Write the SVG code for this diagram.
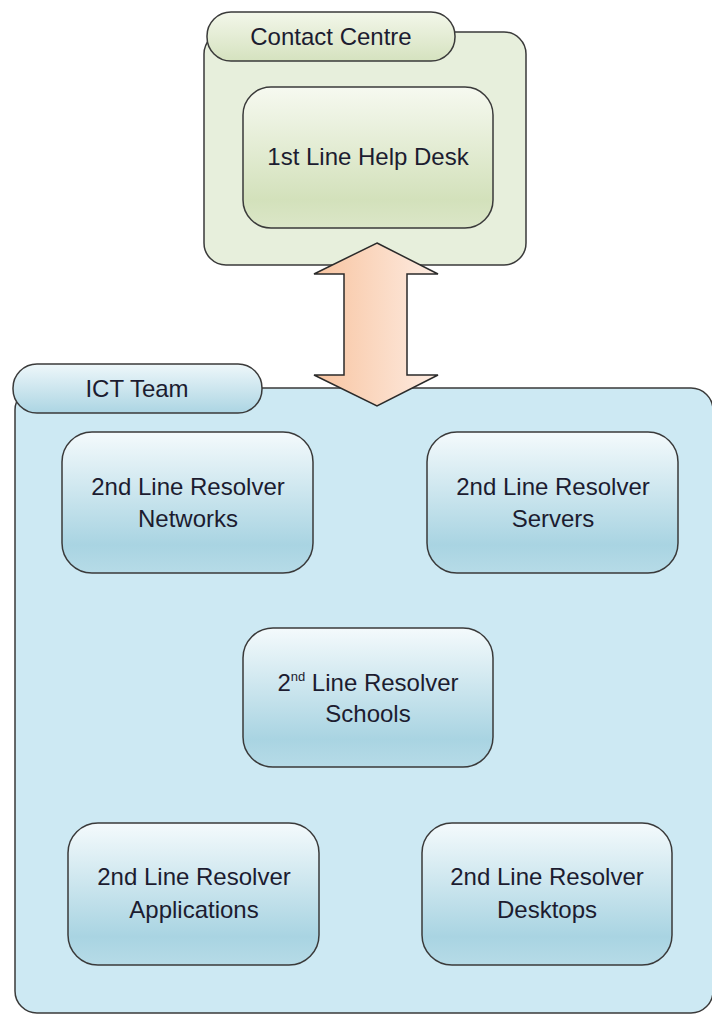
<svg xmlns="http://www.w3.org/2000/svg" width="712" height="1015" viewBox="0 0 712 1015">
  <defs>
    <linearGradient id="gGreenBox" x1="0" y1="0" x2="0" y2="1">
      <stop offset="0" stop-color="#f6f9f0"/>
      <stop offset="0.8" stop-color="#d3e1bb"/>
      <stop offset="1" stop-color="#dbe6c8"/>
    </linearGradient>
    <linearGradient id="gGreenTab" x1="0" y1="0" x2="0" y2="1">
      <stop offset="0" stop-color="#f3f7ea"/>
      <stop offset="1" stop-color="#d5e2bf"/>
    </linearGradient>
    <linearGradient id="gBlueBox" x1="0" y1="0" x2="0" y2="1">
      <stop offset="0" stop-color="#f4fafc"/>
      <stop offset="0.8" stop-color="#a9d4e2"/>
      <stop offset="1" stop-color="#b6dbe7"/>
    </linearGradient>
    <linearGradient id="gBlueTab" x1="0" y1="0" x2="0" y2="1">
      <stop offset="0" stop-color="#eef7fa"/>
      <stop offset="1" stop-color="#acd5e3"/>
    </linearGradient>
    <linearGradient id="gArrow" x1="0" y1="0" x2="1" y2="0">
      <stop offset="0" stop-color="#f8c4a0"/>
      <stop offset="1" stop-color="#fdece2"/>
    </linearGradient>
    <style>
      .container { stroke: #3a3a3a; stroke-width: 1.5; }
      .green { fill: #e7efdc; }
      .blue { fill: #cde9f3; }
      .node { stroke: #3a3a3a; stroke-width: 1.5; }
      .lbl { font-family: "Liberation Sans", Arial, sans-serif; font-size: 24px; fill: #1c1c30; text-anchor: middle; }
      .arrow { fill: url(#gArrow); stroke: #2a2a2a; stroke-width: 1.5; stroke-linejoin: miter; }
    </style>
  </defs>

  <g id="contact-centre">
    <rect class="container green" x="204" y="32" width="322" height="233" rx="22"/>
    <rect class="container" x="207" y="12" width="248" height="49" rx="24" fill="url(#gGreenTab)"/>
    <text class="lbl" x="331" y="45">Contact Centre</text>
  </g>

  <g id="help-desk">
    <rect class="node" x="243" y="87" width="250" height="141" rx="28" fill="url(#gGreenBox)"/>
    <text class="lbl" x="368" y="165">1st Line Help Desk</text>
  </g>

  <g id="ict-team">
    <rect class="container blue" x="15" y="388" width="698" height="625" rx="22"/>
    <rect class="container" x="13" y="364" width="249" height="49" rx="24" fill="url(#gBlueTab)"/>
    <text class="lbl" x="137" y="397">ICT Team</text>
  </g>

  <g id="networks">
    <rect class="node" x="62" y="432" width="251" height="141" rx="30" fill="url(#gBlueBox)"/>
    <text class="lbl" x="188" y="495">2nd Line Resolver</text>
    <text class="lbl" x="188" y="527">Networks</text>
  </g>

  <g id="servers">
    <rect class="node" x="427" y="432" width="251" height="141" rx="30" fill="url(#gBlueBox)"/>
    <text class="lbl" x="553" y="495">2nd Line Resolver</text>
    <text class="lbl" x="553" y="527">Servers</text>
  </g>

  <g id="schools">
    <rect class="node" x="243" y="628" width="250" height="139" rx="30" fill="url(#gBlueBox)"/>
    <text class="lbl" x="368" y="691">2<tspan font-size="13" dy="-10">nd</tspan><tspan dy="10"> Line Resolver</tspan></text>
    <text class="lbl" x="368" y="722">Schools</text>
  </g>

  <g id="applications">
    <rect class="node" x="68" y="823" width="251" height="142" rx="30" fill="url(#gBlueBox)"/>
    <text class="lbl" x="194" y="885">2nd Line Resolver</text>
    <text class="lbl" x="194" y="918">Applications</text>
  </g>

  <g id="desktops">
    <rect class="node" x="422" y="823" width="250" height="142" rx="30" fill="url(#gBlueBox)"/>
    <text class="lbl" x="547" y="885">2nd Line Resolver</text>
    <text class="lbl" x="547" y="918">Desktops</text>
  </g>

  <g id="connectors">
    <path class="arrow" d="M377,243 L438,274 L407,274 L407,375 L438,375 L377,406 L314,375 L344,375 L344,274 L314,274 Z"/>
  </g>
</svg>
